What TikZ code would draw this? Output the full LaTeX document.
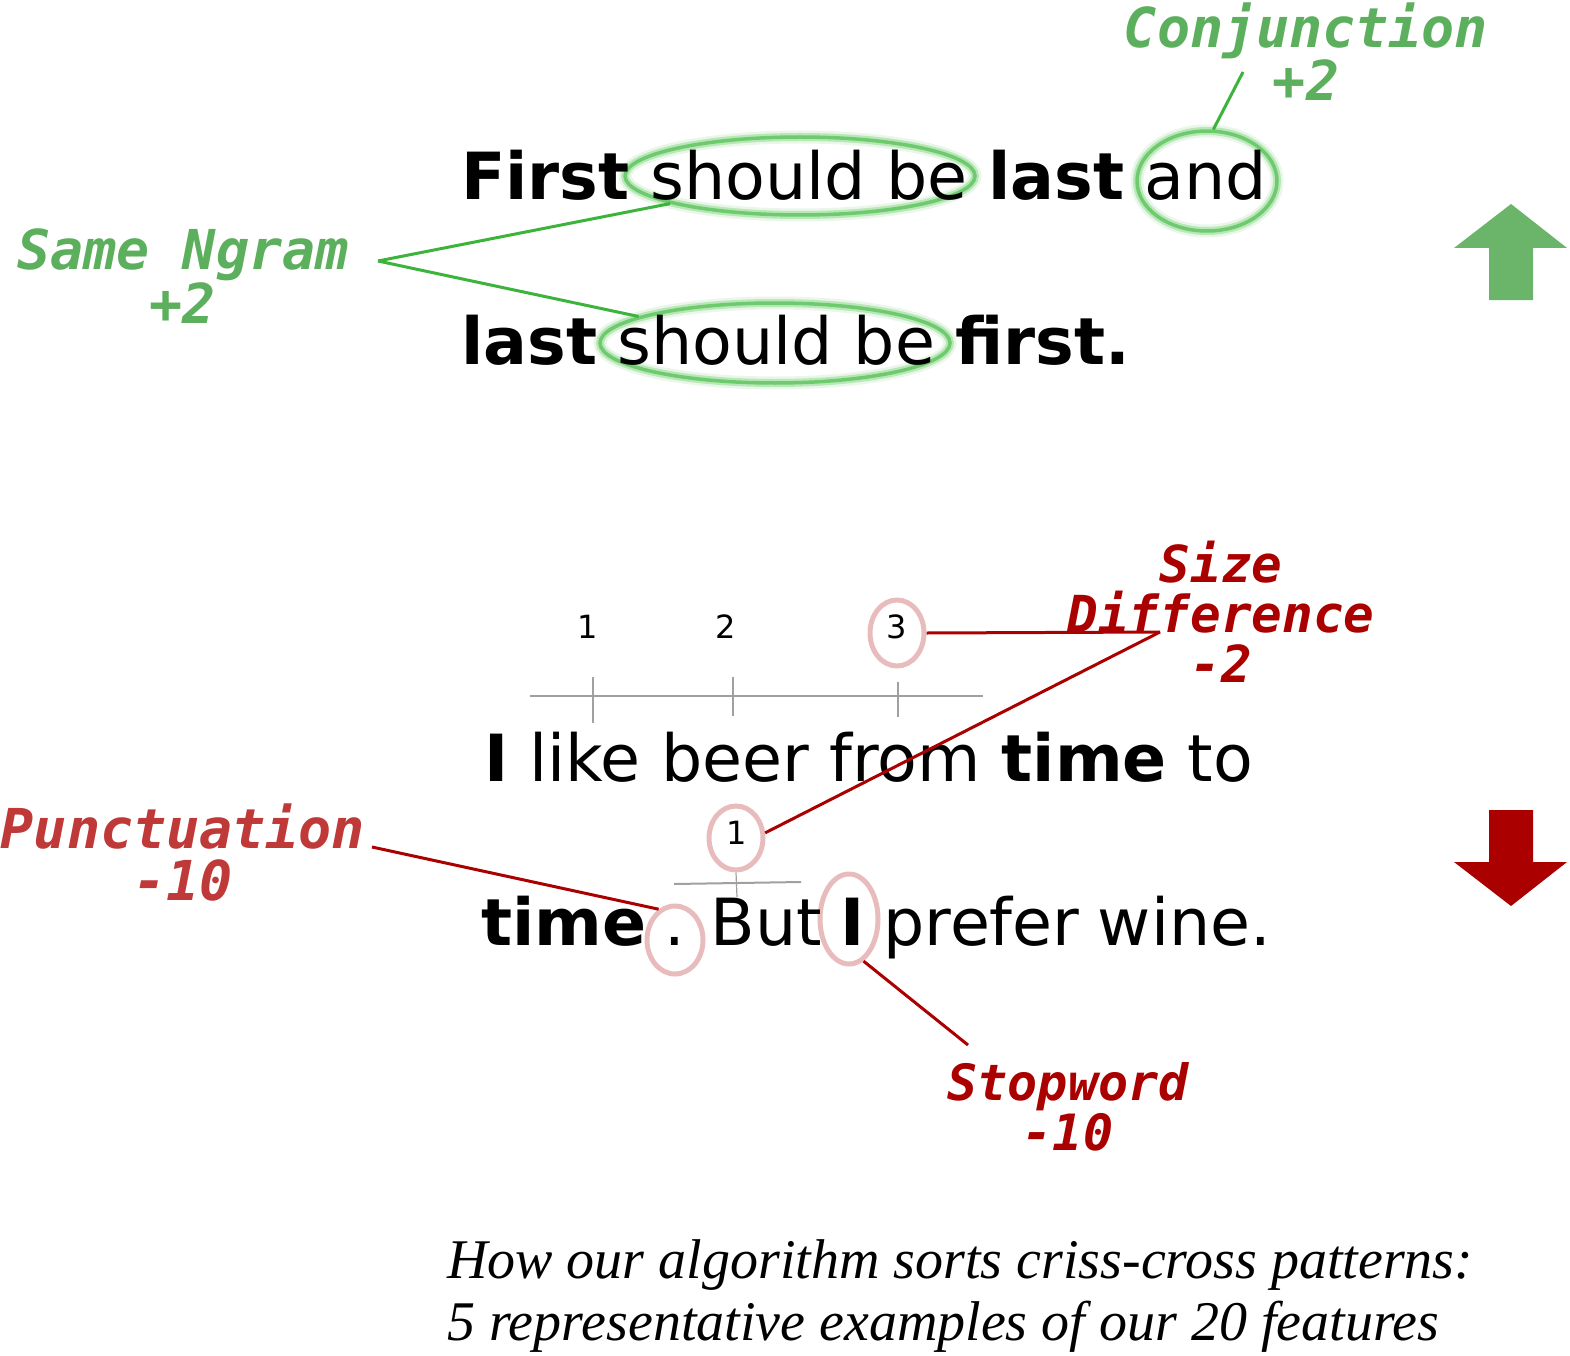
\documentclass[tikz,border=0pt]{standalone}
\usepackage{fontspec}
\setmainfont{DejaVu Sans}
\newfontfamily\labelfont{DejaVu Sans Mono}[BoldItalicFont={DejaVu Sans Mono Bold Oblique}]
\newfontfamily\capfont{Liberation Serif}
\usetikzlibrary{shapes.geometric}
\definecolor{lblgreen}{RGB}{92,175,92}
\definecolor{ellgreen}{RGB}{100,200,100}
\definecolor{lingreen}{RGB}{60,180,60}
\definecolor{arrgreen}{RGB}{106,181,106}
\definecolor{darkred}{RGB}{170,0,0}
\definecolor{punctred}{RGB}{192,57,57}
\definecolor{pinkc}{RGB}{232,188,188}
\definecolor{tickgray}{RGB}{160,160,160}
\tikzset{
  mainline/.style={anchor=base west, inner sep=0pt, font=\fontsize{65}{80}\selectfont},
  numlbl/.style={inner sep=0pt, font=\fontsize{32}{38}\selectfont},
  feat/.style={inner sep=0pt, align=center, font=\labelfont\bfseries\itshape\fontsize{55}{52}\selectfont},
  glow/.style={ellipse, inner sep=0pt, draw=ellgreen, draw opacity=0.9, line width=3.5pt,
    preaction={draw=ellgreen, draw opacity=0.35, line width=8pt},
    preaction={draw=ellgreen, draw opacity=0.15, line width=13pt}},
  pinkring/.style={ellipse, inner sep=0pt, draw=pinkc, line width=5pt},
  gline/.style={draw=lingreen, line width=3pt},
  rline/.style={draw=darkred, line width=3pt},
  tick/.style={draw=tickgray, line width=1.2pt},
  axis/.style={draw=tickgray, line width=2pt},
  capline/.style={anchor=base west, inner sep=0pt, font=\capfont\itshape\fontsize{56}{62}\selectfont},
}
\begin{document}
\begin{tikzpicture}[x=1pt,y=-1pt]
\useasboundingbox (0,0) rectangle (1570,1356);
% ---------- top part ----------
\node[glow, minimum width=350pt, minimum height=78pt] (e1) at (800,176) {};
\node[glow, minimum width=140pt, minimum height=100pt] (e3) at (1207,181) {};
\node[glow, minimum width=350pt, minimum height=80pt] (e2) at (775,343) {};
\node[mainline] (s1) at (461,200) {\textbf{First} should be \textbf{last} and};
\node[mainline] (s2) at (461,364) {\textbf{last} should be \textbf{first.}};

\node[feat, text=lblgreen] (sn) at (183,276) {Same Ngram\\+2};
\coordinate (snp) at (378,261);
\draw[gline] (snp) -- (e1.192);
\draw[gline] (snp) -- (e2.169.5);

\node[feat, text=lblgreen] (cj) at (1306,52) {Conjunction\\+2};
\coordinate (cjp) at (1243,72);
\draw[gline] (cjp) -- (e3.83);

\fill[arrgreen] (1511,204) -- (1567,248) -- (1533,248) -- (1533,300) -- (1489,300) -- (1489,248) -- (1454,248) -- cycle;
\node[inner sep=0pt] (upar) at (1511,252) {};

% ---------- bottom part ----------
\draw[axis] (530,696) -- (983,696);
\draw[tick] (593,677) -- (593,723);
\draw[tick] (733,677) -- (733,716);
\draw[tick] (898,682) -- (898,717);
\node[numlbl] (n1) at (588,627) {1};
\node[numlbl] (n2) at (726,627) {2};
\node[pinkring, minimum width=54pt, minimum height=66pt] (c3) at (897,633) {};
\node[numlbl] (n3) at (897,627) {3};

\node[mainline] (s3) at (484,781) {\textbf{I} like beer from \textbf{time} to};

\node[pinkring, minimum width=54pt, minimum height=64pt] (c1) at (736,838) {};
\node[numlbl] (n1b) at (737,833) {1};
\draw[axis] (674,884) -- (801,882);
\draw[tick] (c1.south) -- (737,897);

\node[pinkring, minimum width=56pt, minimum height=68pt] (cp) at (675,940) {};
\node[pinkring, minimum width=58pt, minimum height=90pt] (ci) at (849,919) {};
\node[mainline] (s4) at (481,945) {\spaceskip=18.5pt\textbf{time} . But \textbf{I} prefer wine.};

\node[feat, text=darkred, font=\labelfont\bfseries\itshape\fontsize{51}{50}\selectfont] (sd) at (1221,612) {Size\\Difference\\-2};
\coordinate (sdp) at (1160,632);
\draw[rline] (c3.east) -- (sdp);
\draw[rline] (c1.10) -- (sdp);

\node[feat, text=punctred] (pu) at (183,853) {Punctuation\\-10};
\coordinate (pup) at (372,847);
\draw[rline] (pup) -- (cp.118);

\node[feat, text=darkred, font=\labelfont\bfseries\itshape\fontsize{50}{50}\selectfont] (sw) at (1068,1107) {Stopword\\-10};
\coordinate (swp) at (968,1045);
\draw[rline] (ci.-71) -- (swp);

\fill[darkred] (1489,810) -- (1533,810) -- (1533,862) -- (1567,862) -- (1511,906) -- (1454,862) -- (1489,862) -- cycle;
\node[inner sep=0pt] (dnar) at (1511,858) {};

% ---------- caption ----------
\node[capline] (cap1) at (447,1278) {How our algorithm sorts criss-cross patterns:};
\node[capline] (cap2) at (447,1340) {5 representative examples of our 20 features};
\end{tikzpicture}
\end{document}
